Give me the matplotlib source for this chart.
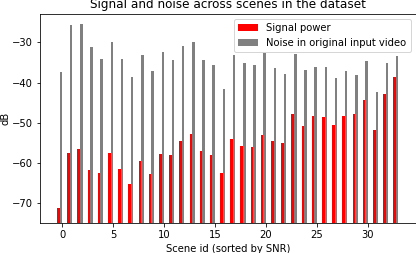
import matplotlib
matplotlib.use("Agg")
import matplotlib.pyplot as plt
import numpy as np

# scene ids, sorted by SNR
scenes = np.arange(34)
signal_db = [-71.1, -57.6, -56.6, -61.8, -62.5, -57.6, -61.4, -65.2, -59.5, -62.8,
             -57.8, -58.0, -54.5, -52.8, -57.0, -57.9, -62.4, -54.0, -55.7, -56.1,
             -53.0, -54.6, -55.1, -47.8, -50.7, -48.3, -48.6, -50.5, -48.3, -47.8,
             -44.3, -51.9, -42.8, -38.6]
noise_db = [-37.3, -25.6, -25.4, -31.2, -34.2, -29.9, -34.2, -38.7, -33.2, -37.1,
            -32.4, -34.3, -30.8, -30.0, -34.3, -35.7, -41.6, -33.2, -35.2, -35.7,
            -32.7, -36.4, -37.8, -32.9, -36.9, -36.1, -36.1, -38.8, -37.1, -38.2,
            -34.7, -42.3, -35.0, -33.4]
floor = -75

# pixel-sized figure: 72 dpi so default point sizes map 1:1 to pixels
W, H, dpi = 416, 253, 72
fig = plt.figure(figsize=(W / dpi, H / dpi), dpi=dpi)
ax = fig.add_axes([40 / W, (H - 223.3) / H, 375.5 / W, (223.3 - 14) / H])

w = 0.25
sig = np.array(signal_db)
noi = np.array(noise_db)
ax.bar(scenes - 0.375, sig - floor, width=w, bottom=floor, color="red", label="Signal power")
ax.bar(scenes - 0.125, noi - floor, width=w, bottom=floor, color="gray",
       label="Noise in original input video")

ax.set_title("Signal and noise across scenes in the dataset")
ax.set_xlabel("Scene id (sorted by SNR)")
ax.set_ylabel("dB", labelpad=1.5)
ax.legend(loc="upper right")

fig.savefig("out.png", dpi=dpi)
